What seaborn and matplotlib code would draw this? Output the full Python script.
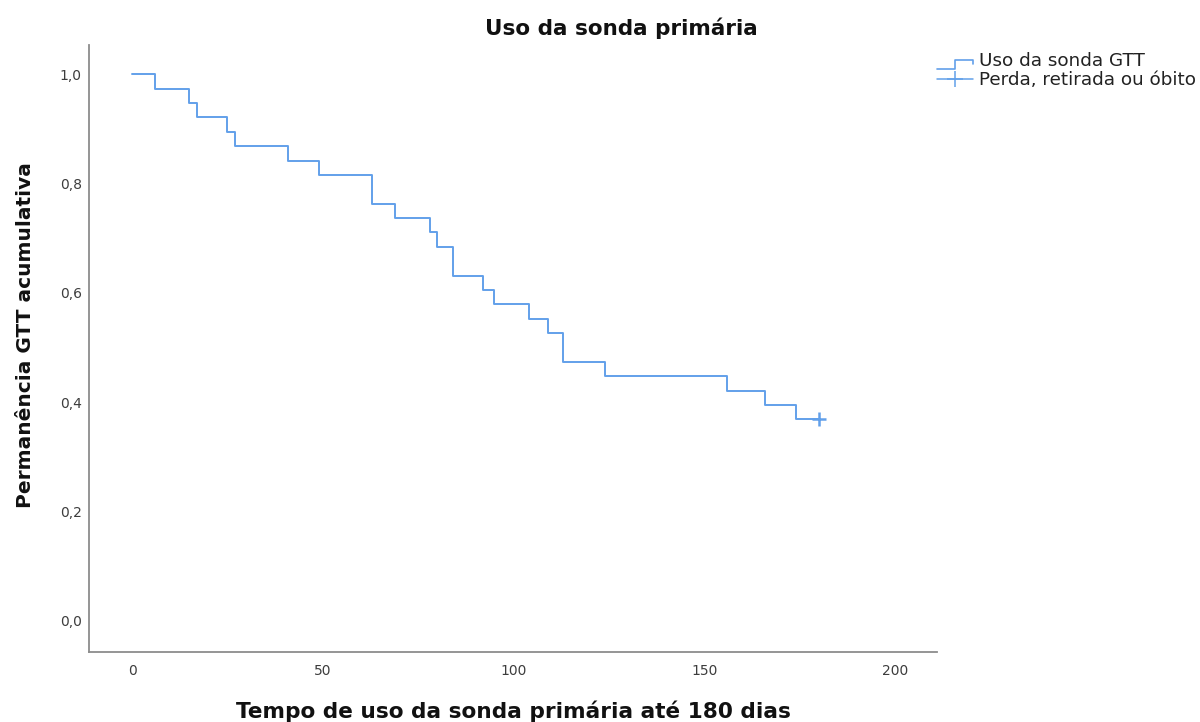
import numpy as np
import pandas as pd
import matplotlib
matplotlib.use("Agg")
import matplotlib.pyplot as plt
from matplotlib.lines import Line2D
from matplotlib.legend_handler import HandlerBase
import seaborn as sns

# Follow-up of the primary feeding tube (days): events = loss / removal / death
tempo_evento = [6, 15, 17, 25, 27, 41, 49, 63, 63, 69, 78, 80, 84, 84,
                92, 95, 104, 109, 113, 113, 124, 156, 166, 174]
tempo_censura = [180] * 14

x_ticks = [0, 50, 100, 150, 200]
y_ticks = [0.0, 0.2, 0.4, 0.6, 0.8, 1.0]

titulo = "Uso da sonda primária"
rotulo_x = "Tempo de uso da sonda primária até 180 dias"
rotulo_y = "Permanência GTT acumulativa"
legenda = ["Uso da sonda GTT", "Perda, retirada ou óbito"]

df = pd.DataFrame({
    "tempo": tempo_evento + tempo_censura,
    "evento": [1] * len(tempo_evento) + [0] * len(tempo_censura),
})


def kaplan_meier(data):
    """Product-limit estimate as a step table starting at t=0."""
    n_risk = len(data)
    s = 1.0
    times, surv = [0.0], [1.0]
    for t, grp in data.groupby("tempo", sort=True):
        d = grp["evento"].sum()
        if d > 0:
            s *= (n_risk - d) / n_risk
        times.append(t)
        surv.append(s)
        n_risk -= len(grp)
    return pd.DataFrame({"tempo": times, "sobrevida": surv})


km = kaplan_meier(df)
cens = df.loc[df["evento"] == 0, "tempo"].unique()
cens_s = [km.loc[km["tempo"] <= t, "sobrevida"].iloc[-1] for t in cens]

sns.set_theme(style="white")
plt.rcParams["font.family"] = ["DejaVu Sans"]

W, H = 1200, 722
cor = "#62a0ea"
fig = plt.figure(figsize=(W / 100, H / 100), dpi=100)
ax = fig.add_axes([89.3 / W, 1 - 651.7 / H, (936.7 - 89.3) / W, (651.7 - 45) / H])

sns.lineplot(data=km, x="tempo", y="sobrevida", drawstyle="steps-post",
             color=cor, linewidth=1.4, ax=ax, legend=False)
ax.plot(cens, cens_s, linestyle="none", marker="+", markersize=10.5,
        markeredgewidth=1.8, color=cor)

ax.set_xlim(-11.2, 210.9)
ax.set_ylim(-0.0565, 1.0536)
ax.set_xticks(x_ticks)
ax.set_xticklabels([str(v) for v in x_ticks])
ax.set_yticks(y_ticks)
ax.set_yticklabels([f"{v:.1f}".replace(".", ",") for v in y_ticks])
ax.tick_params(axis="both", length=0, labelsize=10, colors="#3d3d3d")
ax.tick_params(axis="x", pad=8.5)
ax.tick_params(axis="y", pad=5.5)
ax.set_xlabel("")
ax.set_ylabel("")

for side in ["top", "right"]:
    ax.spines[side].set_visible(False)
for side in ["left", "bottom"]:
    ax.spines[side].set_color("#8c8c8c")
    ax.spines[side].set_linewidth(1.3)

fig.text(513 / W, 1 - 717.5 / H, rotulo_x, ha="center", va="baseline",
         fontsize=15.6, fontweight="bold", color="#111111")
fig.text(26 / W, 1 - 335 / H, rotulo_y, ha="center", va="center", rotation=90,
         fontsize=14.5, fontweight="bold", color="#111111")
fig.text(621 / W, 1 - 28 / H, titulo, ha="center", va="center", fontsize=15.5,
         fontweight="bold", color="#111111")


class HandlerStep(HandlerBase):
    """Legend key drawn as a small survival step."""
    def create_artists(self, legend, orig_handle, xdescent, ydescent,
                       width, height, fontsize, trans):
        x0, x1 = -xdescent, -xdescent + width
        xm = x0 + width * 0.5
        ylo = -ydescent - height * 0.25
        yhi = -ydescent + height * 0.5
        yend = -ydescent + height * 0.19
        line = Line2D([x0, xm, xm, x1, x1], [ylo, ylo, yhi, yhi, yend],
                      color=orig_handle.get_color(), linewidth=1.2,
                      transform=trans)
        return [line]


h_step = Line2D([], [], color=cor)
h_cens = Line2D([], [], color=cor, marker="+", markersize=11.5,
                markeredgewidth=1.1, linewidth=1.1)
fig.legend([h_step, h_cens], legenda, loc="upper left",
           bbox_to_anchor=(936.7 / W, 1 - 52 / H), frameon=False, fontsize=13.2,
           handlelength=2.0, handletextpad=0.33, labelspacing=0.06,
           borderpad=0, borderaxespad=0, labelcolor="#222222",
           handler_map={h_step: HandlerStep()})

fig.savefig("out.png", dpi=100)
